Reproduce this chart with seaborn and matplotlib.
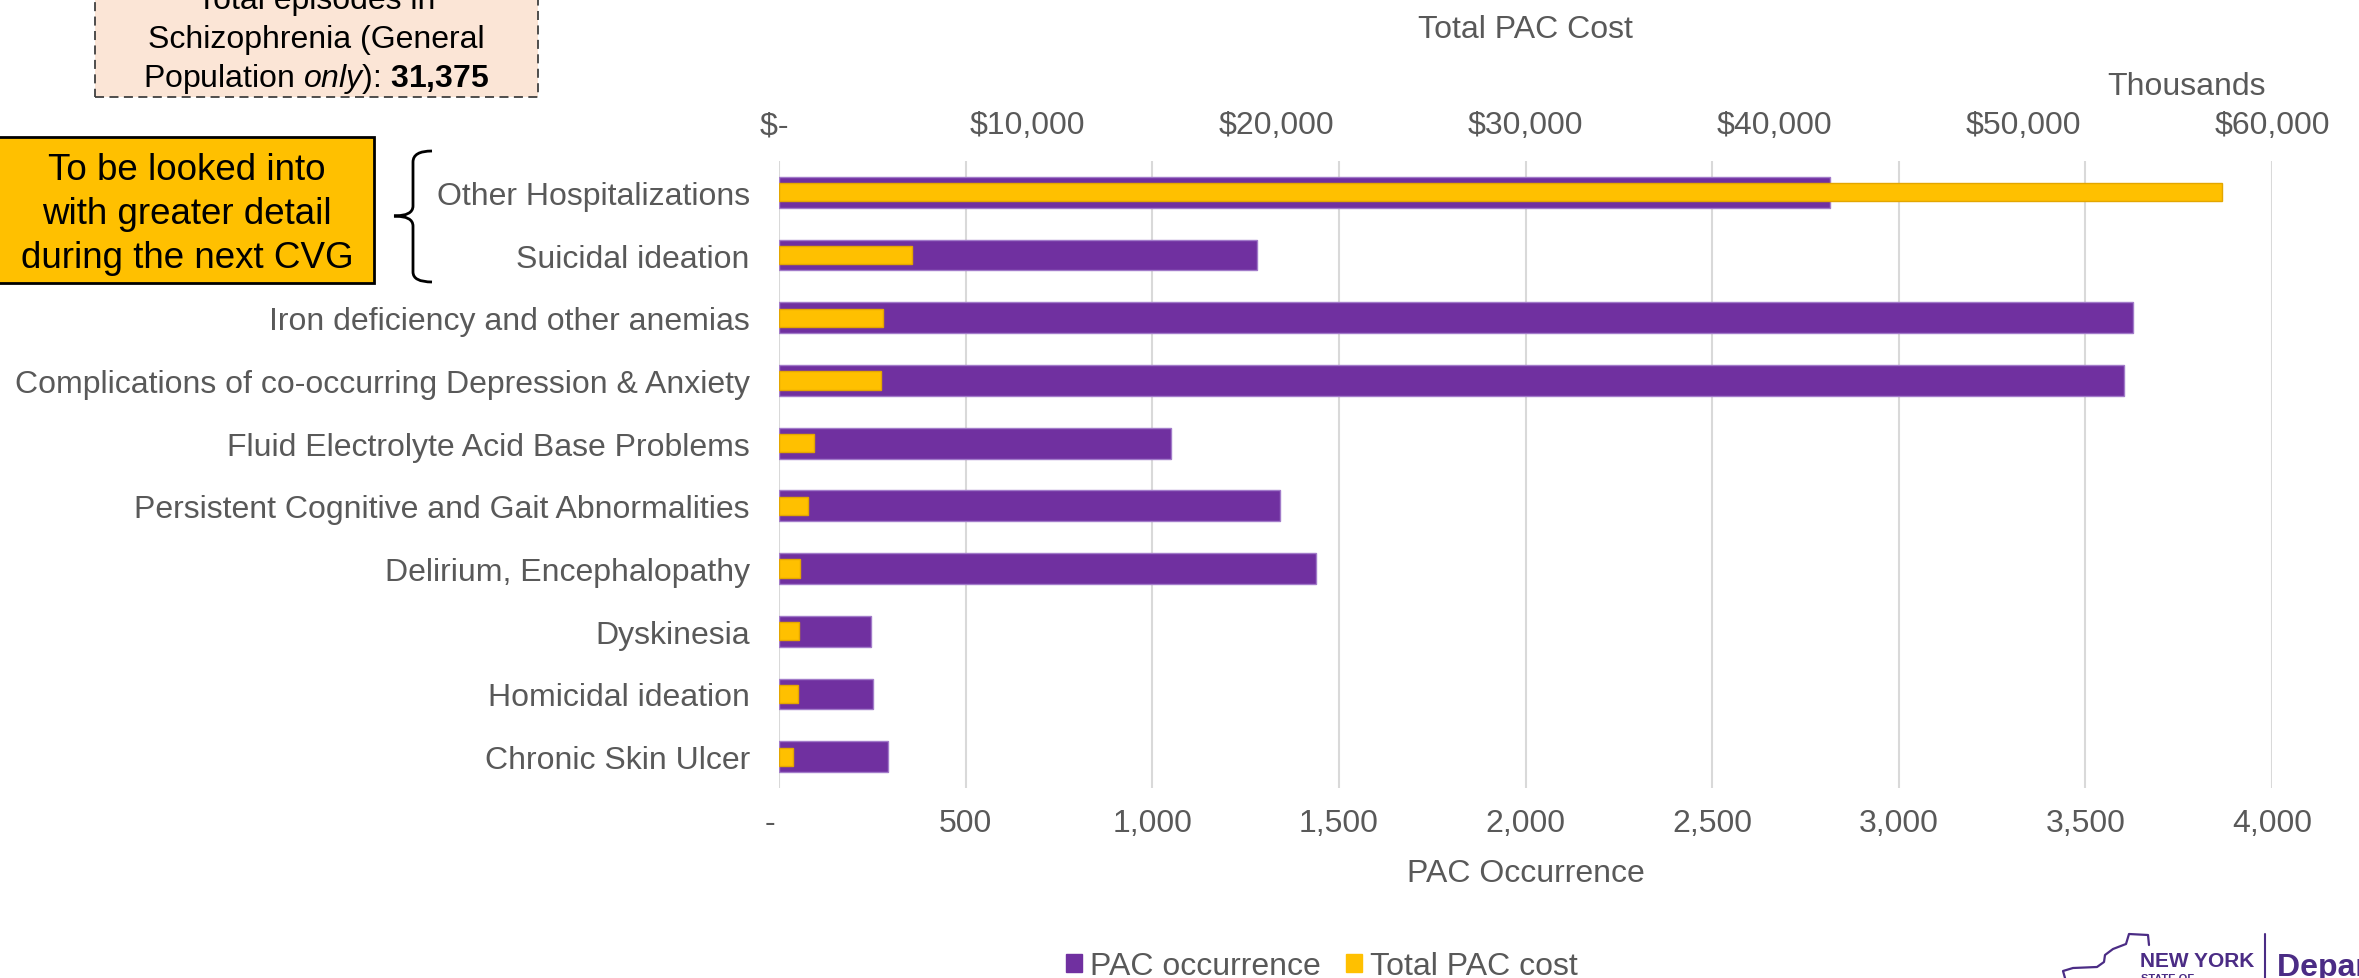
import matplotlib
matplotlib.use("Agg")
import matplotlib.pyplot as plt
import seaborn as sns
from matplotlib.patches import Rectangle, Patch, PathPatch
from matplotlib.path import Path
from matplotlib.lines import Line2D
from matplotlib.ticker import FuncFormatter

# ---- data -------------------------------------------------------------
categories = [
    "Other Hospitalizations",
    "Suicidal ideation",
    "Iron deficiency and other anemias",
    "Complications of co-occurring Depression & Anxiety",
    "Fluid Electrolyte Acid Base Problems",
    "Persistent Cognitive and Gait Abnormalities",
    "Delirium, Encephalopathy",
    "Dyskinesia",
    "Homicidal ideation",
    "Chronic Skin Ulcer",
]
pac_occurrence = [2815, 1280, 3628, 3603, 1049, 1343, 1440, 247, 251, 293]
pac_cost_thousands = [57990, 5365, 4164, 4103, 1411, 1149, 828, 796, 751, 566]
occurrence_ticks = [0, 500, 1000, 1500, 2000, 2500, 3000, 3500, 4000]
cost_ticks = [0, 10000, 20000, 30000, 40000, 50000, 60000]
total_episodes = 31375

# ---- style ------------------------------------------------------------
PURPLE = "#7030A0"
YELLOW = "#FFC000"
GREY = "#595959"
GRID = "#D9D9D9"
FS = 23

sns.set_theme(style="white")
plt.rcParams["font.family"] = ["Liberation Sans", "DejaVu Sans"]
plt.rcParams["mathtext.fontset"] = "custom"
plt.rcParams["mathtext.rm"] = "Liberation Sans"
plt.rcParams["mathtext.it"] = "Liberation Sans:italic"
plt.rcParams["mathtext.bf"] = "Liberation Sans:bold"

W, H = 2359, 979
fig = plt.figure(figsize=(W / 100, H / 100), dpi=100)
fig.patch.set_facecolor("white")


def fx(px):
    return px / W


def fy(py):
    return 1 - py / H


ax = fig.add_axes([fx(779), fy(789), (2272 - 779) / W, (789 - 162) / H])

# occurrence bars (bottom axis)
sns.barplot(x=pac_occurrence, y=categories, orient="h", color=PURPLE,
            saturation=1, width=0.49, edgecolor="#A27BC9", linewidth=1, ax=ax)

# cost bars (top axis, thousands of dollars)
ax2 = ax.twiny()
sns.barplot(x=pac_cost_thousands, y=categories, orient="h", color=YELLOW,
            saturation=1, width=0.29, edgecolor="#E3A600", linewidth=1, ax=ax2)

ax.set_xlim(0, occurrence_ticks[-1])
ax2.set_xlim(0, cost_ticks[-1])
ax.set_xticks(occurrence_ticks)
ax2.set_xticks(cost_ticks)
ax.xaxis.set_major_formatter(FuncFormatter(lambda v, p: "-  " if v == 0 else f"{int(v):,}"))
ax2.xaxis.set_major_formatter(FuncFormatter(lambda v, p: "$- " if v == 0 else f"${int(v):,}"))

ax.grid(axis="x", color=GRID, lw=1.5)
ax.grid(axis="y", visible=False)
ax2.grid(False)
ax.set_axisbelow(True)
for a in (ax, ax2):
    for s in a.spines.values():
        s.set_visible(False)

ax.tick_params(axis="x", length=0, pad=14.5, labelsize=FS, labelcolor=GREY)
ax.tick_params(axis="y", length=0, pad=21, labelsize=FS, labelcolor=GREY)
ax2.tick_params(axis="x", length=0, pad=15, labelsize=FS, labelcolor=GREY)
ax.set_ylabel("")
ax2.set_ylabel("")
ax.set_xlabel("PAC Occurrence", fontsize=FS, color=GREY, labelpad=14)
ax2.set_xlabel("Total PAC Cost", fontsize=FS, color=GREY, labelpad=53)
fig.text(fx(2186), fy(95), "Thousands", ha="center", va="baseline", fontsize=FS, color=GREY)

# ---- legend -----------------------------------------------------------
fig.legend(handles=[Patch(color=PURPLE), Patch(color=YELLOW)],
           labels=["PAC occurrence", "Total PAC cost"],
           loc="center", bbox_to_anchor=(fx(1322), fy(967)), ncol=2, frameon=False,
           fontsize=FS, labelcolor=GREY, handlelength=0.5, handleheight=0.5,
           handletextpad=0.25, columnspacing=0.8)

# ---- episode count box ------------------------------------------------
fig.patches.append(Rectangle((fx(95), fy(98)), (538 - 95) / W, 110 / H,
                             transform=fig.transFigure, facecolor="#FBE5D6",
                             edgecolor="#404040", lw=1.3, linestyle=(0, (5, 3))))
box_lines = ["Total episodes in",
             "Schizophrenia (General",
             r"Population $\mathit{only}$): $\mathbf{31{,}375}$"]
for line, base in zip(box_lines, [9, 48, 87]):
    fig.text(fx(316), fy(base), line, ha="center", va="baseline", fontsize=23, color="black")

# ---- follow-up note with brace ----------------------------------------
fig.patches.append(Rectangle((fx(-2), fy(284)), 376 / W, (284 - 138) / H,
                             transform=fig.transFigure, facecolor=YELLOW,
                             edgecolor="black", lw=2))
for line, base in zip(["To be looked into", "with greater detail", "during the next CVG"],
                      [180, 224, 268]):
    fig.text(fx(187), fy(base), line, ha="center", va="baseline", fontsize=26.5, color="black")

brace_pts = [(432, 152), (413, 152), (413, 163), (413, 207), (413, 217), (394, 217),
             (413, 217), (413, 227), (413, 273), (413, 283), (432, 283)]
brace_codes = [Path.MOVETO, Path.CURVE3, Path.CURVE3, Path.LINETO, Path.CURVE3, Path.CURVE3,
               Path.CURVE3, Path.CURVE3, Path.LINETO, Path.CURVE3, Path.CURVE3]
brace = Path([(fx(x), fy(y)) for x, y in brace_pts], brace_codes)
fig.patches.append(PathPatch(brace, transform=fig.transFigure, facecolor="none",
                             edgecolor="black", lw=2))

# ---- footer logo ------------------------------------------------------
LOGO = "#4B2C85"
outline = [(2149, 946), (2148, 936), (2129, 935), (2126, 945), (2113, 950), (2105, 956),
           (2104, 963), (2097, 968), (2073, 969), (2063, 972), (2065, 979)]
fig.add_artist(Line2D([fx(x) for x, _ in outline], [fy(y) for _, y in outline],
                      transform=fig.transFigure, color=LOGO, lw=1.6))
fig.text(fx(2140), fy(967), "NEW YORK", ha="left", va="baseline", fontsize=15,
         fontweight="bold", color=LOGO)
fig.text(fx(2141), fy(974), "STATE OF", ha="left", va="top", fontsize=8,
         fontweight="bold", color=LOGO)
fig.add_artist(Line2D([fx(2265), fx(2265)], [fy(935), fy(985)],
                      transform=fig.transFigure, color=LOGO, lw=1.5))
fig.text(fx(2277), fy(976), "Department of Health", ha="left", va="baseline",
         fontsize=23, fontweight="bold", color=LOGO)

fig.savefig("out.png", dpi=100, facecolor="white")
